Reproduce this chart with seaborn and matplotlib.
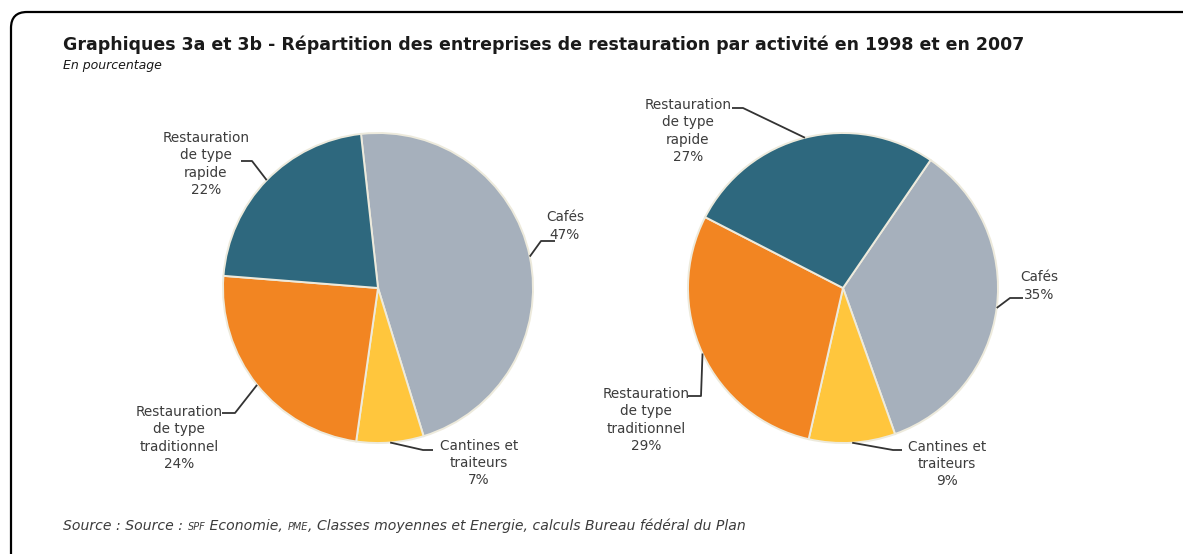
import matplotlib
matplotlib.use("Agg")
import matplotlib.pyplot as plt
import seaborn as sns
from matplotlib.patches import FancyBboxPatch
import numpy as np

# données (en %)
categories = ["Cafés", "Cantines et\ntraiteurs", "Restauration\nde type\ntraditionnel",
              "Restauration\nde type\nrapide"]
share_1998 = [47, 7, 24, 22]
share_2007 = [35, 9, 29, 27]
slice_colors = ["#A6B0BC", "#FFC63D", "#F28522", "#2E687E"]

title = ("Graphiques 3a et 3b - Répartition des entreprises de restauration "
         "par activité en 1998 et en 2007")
subtitle = "En pourcentage"
source_parts = [("Source : Source : ", 1.0), ("SPF", 0.7), (" Economie, ", 1.0), ("PME", 0.7),
                (", Classes moyennes et Energie, calculs Bureau fédéral du Plan", 1.0)]

W, H = 1183, 554
sns.set_theme(style="white")
plt.rcParams['font.family'] = ['DejaVu Sans']

fig = plt.figure(figsize=(W / 100, H / 100), dpi=100)
ax = fig.add_axes([0, 0, 1, 1])


def py(y):
    # pixel row -> data y
    return H - y


# layout of each pie: centre, start angle, label centres, elbow of leader line
pies = [
    dict(values=share_1998, center=(378, 288), start=96.3,
         labels=[(565, 226), (479, 463), (179, 438), (206, 164)],
         elbows=[(555, 541, 241), (433, 423, 450), (222, 235, 413), (241, 252, 161)]),
    dict(values=share_2007, center=(843, 288), start=55.6,
         labels=[(1039, 286), (947, 464), (646, 420), (688, 131)],
         elbows=[(1023, 1010, 298), (902, 893, 450), (688, 701, 396), (732, 743, 108)]),
]
radius = 155

for p in pies:
    cx, cy = p["center"][0], py(p["center"][1])
    wedges, _ = ax.pie(p["values"], colors=slice_colors, startangle=p["start"],
                       counterclock=False, center=(cx, cy), radius=radius,
                       wedgeprops=dict(edgecolor="#EDEADC", linewidth=1.4))
    for w, cat, val, (lx, ly), (x0, x1, ey) in zip(wedges, categories, p["values"],
                                                   p["labels"], p["elbows"]):
        mid = np.deg2rad((w.theta1 + w.theta2) / 2)
        ex, ey_edge = cx + radius * np.cos(mid), cy + radius * np.sin(mid)
        ax.plot([x0, x1, ex], [py(ey), py(ey), ey_edge], color="#333333", lw=1.3,
                solid_capstyle="butt")
        ax.text(lx, py(ly), f"{cat}\n{val}%", ha="center", va="center",
                linespacing=1.3, fontsize=9.8, color="#3C3C3C")

ax.set_xlim(0, W)
ax.set_ylim(0, H)
ax.set_aspect("auto")
ax.axis("off")

# cadre arrondi
box = FancyBboxPatch((11, -60), W + 60, H - 12 + 60,
                     boxstyle="round,pad=0,rounding_size=16",
                     fill=False, ec="black", lw=1.6, clip_on=False)
ax.add_patch(box)

ax.text(63, py(45), title, fontsize=12.5, fontweight="bold", va="center", ha="left",
        color="#1A1A1A")
ax.text(63, py(65), subtitle, fontsize=9, style="italic", va="center", ha="left",
        color="#1A1A1A")

# source avec petites capitales
renderer = fig.canvas.get_renderer()
x = 63
for txt, scale in source_parts:
    t = ax.text(x, py(530), txt, fontsize=10.1 * scale, style="italic", va="baseline",
                ha="left", color="#3C3C3C")
    bb = t.get_window_extent(renderer)
    x = bb.x1

fig.savefig("out.png", dpi=100)
